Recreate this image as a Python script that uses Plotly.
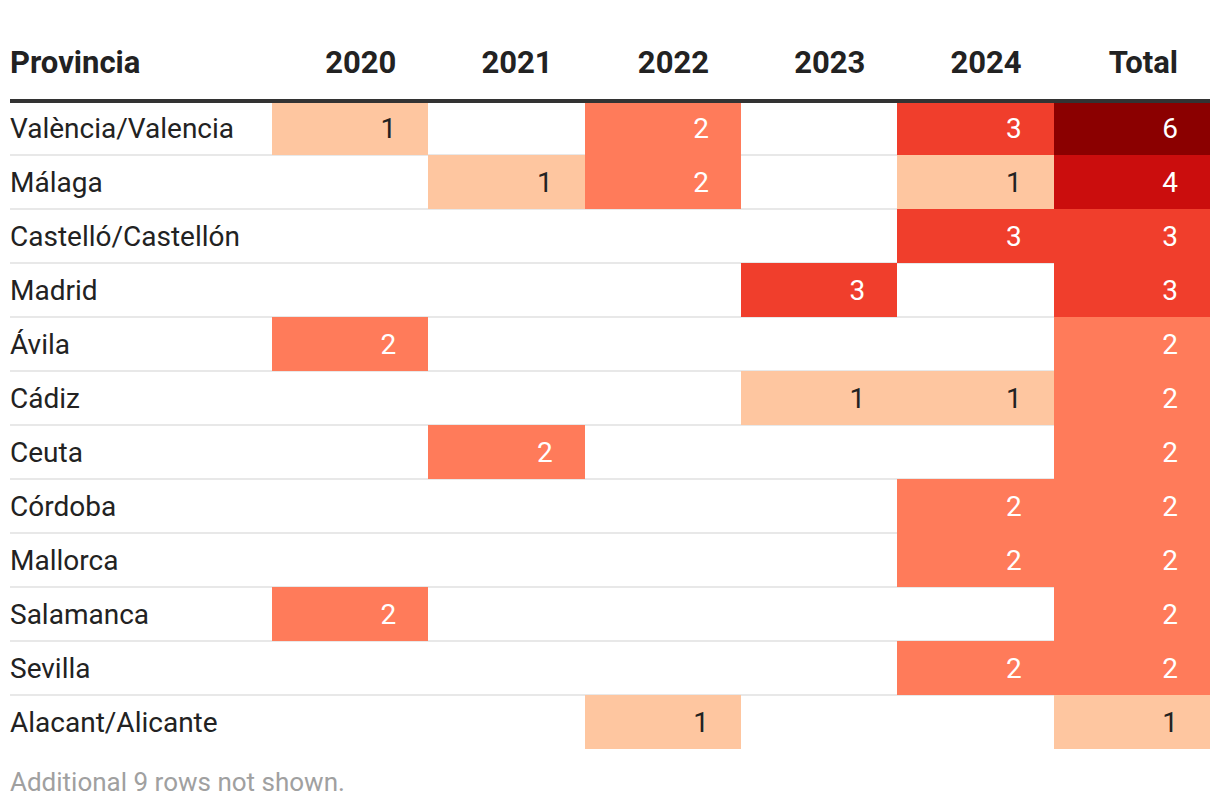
import plotly.graph_objects as go

provinces = ["València/Valencia", "Málaga", "Castelló/Castellón", "Madrid", "Ávila", "Cádiz",
             "Ceuta", "Córdoba", "Mallorca", "Salamanca", "Sevilla", "Alacant/Alicante"]
columns = ["2020", "2021", "2022", "2023", "2024", "Total"]
v2020 = [1, None, None, None, 2, None, None, None, None, 2, None, None]
v2021 = [None, 1, None, None, None, None, 2, None, None, None, None, None]
v2022 = [2, 2, None, None, None, None, None, None, None, None, None, 1]
v2023 = [None, None, None, 3, None, 1, None, None, None, None, None, None]
v2024 = [3, 1, 3, None, None, 1, None, 2, 2, None, 2, None]
total = [6, 4, 3, 3, 2, 2, 2, 2, 2, 2, 2, 1]
footnote = "Additional 9 rows not shown."

series = [v2020, v2021, v2022, v2023, v2024, total]

# layout geometry (data units == pixels); page body has an 8px margin
W, H = 1220, 808
BODY = 8
ML = 10 - BODY
PLOTW = 1200
MR = W - ML - PLOTW
COL0 = 262.0
COLW = 938.0 / 6
ROWH = 54.0
HEAD_LINE_PX = 101.0 - BODY
HEAD_TEXT_PX = 65.0 - BODY
FOOT_PX = 784.0 - BODY
TEXT_DY = 3.0 / ROWH
PAD = 32.0

y_top = -0.5 - HEAD_LINE_PX / ROWH
y_bot = y_top + H / ROWH

nrows = len(provinces)
rows = list(range(nrows))
col_centers = [COL0 + COLW * (j + 0.5) for j in range(len(columns))]

z = [[series[j][i] for j in range(len(columns))] for i in range(nrows)]

colorscale = [
    [0.0, "#fec6a0"],
    [0.2, "#ff7b5a"],
    [0.4, "#f03e2c"],
    [0.6, "#cb0d0d"],
    [0.8, "#a80606"],
    [1.0, "#8b0000"],
]

fig = go.Figure()

fig.add_trace(go.Heatmap(
    x=col_centers, y=rows, z=z, zmin=1, zmax=6, colorscale=colorscale,
    showscale=False, hoverinfo="skip", xgap=0, ygap=0,
))

# cell value labels
tx, ty, tt, tc = [], [], [], []
for j in range(len(columns)):
    for i in range(nrows):
        v = series[j][i]
        if v is None:
            continue
        tx.append(COL0 + COLW * (j + 1) - PAD)
        ty.append(i + TEXT_DY)
        tt.append(str(v))
        tc.append("#222222" if v <= 1 else "#ffffff")

fig.add_trace(go.Scatter(
    x=tx, y=ty, text=tt, mode="text", textposition="middle left",
    textfont=dict(family="Roboto", size=28, color=tc), hoverinfo="skip", showlegend=False,
))

# province names
fig.add_trace(go.Scatter(
    x=[0] * nrows, y=[r + TEXT_DY for r in rows], text=provinces, mode="text",
    textposition="middle right",
    textfont=dict(family="Roboto", size=28, color="#222222"), hoverinfo="skip", showlegend=False,
))

# header
head_y = -0.5 - (HEAD_LINE_PX - HEAD_TEXT_PX) / ROWH
fig.add_trace(go.Scatter(
    x=[0], y=[head_y], text=["<b>Provincia</b>"], mode="text", textposition="middle right",
    textfont=dict(family="Roboto", size=31, color="#222222"), hoverinfo="skip", showlegend=False,
))
fig.add_trace(go.Scatter(
    x=[COL0 + COLW * (j + 1) - PAD for j in range(len(columns))], y=[head_y] * len(columns),
    text=["<b>%s</b>" % c for c in columns], mode="text", textposition="middle left",
    textfont=dict(family="Roboto", size=31, color="#222222"), hoverinfo="skip", showlegend=False,
))

# footnote
fig.add_trace(go.Scatter(
    x=[0], y=[nrows - 0.5 + (FOOT_PX - (HEAD_LINE_PX + ROWH * nrows)) / ROWH], text=[footnote],
    mode="text", textposition="middle right",
    textfont=dict(family="Roboto", size=26, color="#a0a0a0"), hoverinfo="skip", showlegend=False,
))

shapes = [dict(type="line", xref="x", yref="y", x0=0, x1=PLOTW, y0=-0.5, y1=-0.5,
               line=dict(color="#333333", width=4), layer="above")]
for i in range(nrows - 1):
    shapes.append(dict(type="line", xref="x", yref="y", x0=0, x1=PLOTW, y0=i + 0.5, y1=i + 0.5,
                       line=dict(color="#e8e8e8", width=2), layer="below"))

fig.update_layout(
    width=W, height=H, autosize=False,
    margin=dict(l=ML, r=MR, t=0, b=0),
    paper_bgcolor="white", plot_bgcolor="white",
    xaxis=dict(range=[0, PLOTW], visible=False, fixedrange=True),
    yaxis=dict(range=[y_bot, y_top], visible=False, fixedrange=True),
    shapes=shapes, showlegend=False,
)

fig.write_html("out.html")
